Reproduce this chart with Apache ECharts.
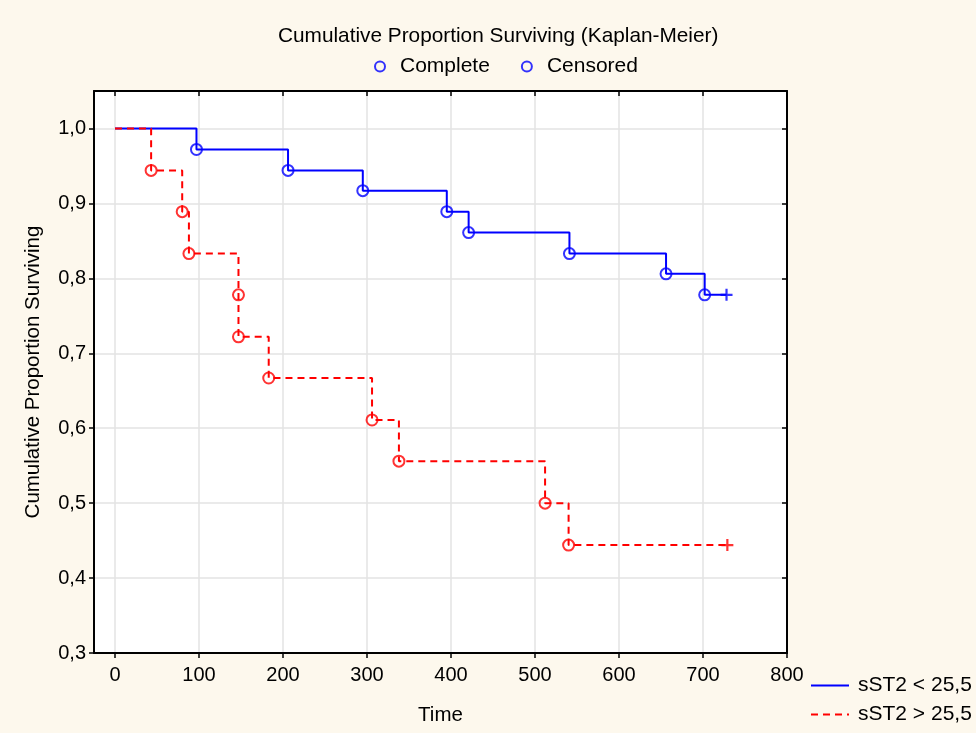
<!DOCTYPE html>
<html>
<head>
<meta charset="utf-8">
<title>Kaplan-Meier</title>
<script src="https://cdn.jsdelivr.net/npm/echarts@6/dist/echarts.min.js"></script>
<style>
  html, body { margin: 0; padding: 0; background: #fdf8ed; }
  #chart { width: 976px; height: 733px; }
</style>
</head>
<body>
<div id="chart"></div>
<script>
// sST2 < 25,5 (blue)
var lowTimes = [0, 97, 206, 295, 395, 421, 541, 656, 702]
var lowSurv = [1.0, 0.972, 0.944, 0.917, 0.889, 0.861, 0.833, 0.806, 0.778]
var lowCensorTime = 728
// sST2 > 25,5 (red)
var highTimes = [0, 43, 80, 88, 147, 147, 183, 306, 338, 512, 540]
var highSurv = [1.0, 0.944, 0.889, 0.833, 0.778, 0.722, 0.667, 0.611, 0.556, 0.5, 0.444]
var highCensorTime = 729

var xTicks = [0, 100, 200, 300, 400, 500, 600, 700, 800]
var yTicks = [0.3, 0.4, 0.5, 0.6, 0.7, 0.8, 0.9, 1.0]

var BLUE = '#0000ff'
var RED = '#ff0000'
var FONT = 'Liberation Sans, Arial, sans-serif'

function stepData(times, surv, censorTime) {
  var d = times.map(function(t, i) { return [t, surv[i]] })
  d.push([censorTime, surv[surv.length - 1]])
  return d
}

function eventPoints(times, surv, color) {
  var pts = []
  for (var i = 1; i < times.length; i++) {
    pts.push({ value: [times[i], surv[i]], itemStyle: { borderColor: color } })
  }
  return pts
}

var chart = echarts.init(document.getElementById('chart'))

var tickFont = { color: '#000', fontSize: 20, fontFamily: FONT }
var nameFont = { color: '#000', fontSize: 20.5, fontFamily: FONT }

var options = {
  backgroundColor: '#fdf8ed',
  animation: false,
  title: {
    text: 'Cumulative Proportion Surviving (Kaplan-Meier)',
    left: 278,
    top: 26,
    padding: 0,
    textStyle: { color: '#000', fontSize: 20.8, fontWeight: 'normal', fontFamily: FONT }
  },
  legend: [
    {
      data: [
        { name: 'Complete', icon: 'circle', itemStyle: { color: 'rgba(0,0,0,0)', borderColor: BLUE, borderWidth: 2 } },
        { name: 'Censored', icon: 'circle', itemStyle: { color: 'rgba(0,0,0,0)', borderColor: BLUE, borderWidth: 2 } }
      ],
      left: 374,
      top: 56,
      padding: 0,
      itemWidth: 10,
      itemHeight: 10,
      itemGap: 31,
      textStyle: { color: '#000', fontSize: 21, fontFamily: FONT, padding: [0, 0, 0, 10] }
    },
    {
      data: ['sST2 < 25,5', 'sST2 > 25,5'],
      orient: 'vertical',
      left: 810,
      top: 675,
      padding: 0,
      itemWidth: 38,
      itemHeight: 14,
      itemGap: 8,
      itemStyle: { opacity: 0 },
      textStyle: { color: '#000', fontSize: 21, fontFamily: FONT, padding: [0, 0, 0, 4] }
    }
  ],
  grid: {
    left: 94,
    right: 189,
    top: 91,
    bottom: 80,
    show: true,
    backgroundColor: '#fff',
    borderWidth: 0
  },
  xAxis: [
    {
      type: 'value',
      min: -25,
      max: 800,
      name: 'Time',
      nameLocation: 'middle',
      nameGap: 52,
      nameTextStyle: nameFont,
      axisLine: { onZero: false, lineStyle: { color: '#000', width: 2 } },
      axisTick: { show: true, length: 5, customValues: xTicks, lineStyle: { color: '#000', width: 1.5 } },
      axisLabel: Object.assign({ customValues: xTicks, margin: 12 }, tickFont),
      splitLine: { show: true, lineStyle: { color: '#e3e3e3', width: 1.5 } }
    },
    {
      type: 'value',
      position: 'top',
      min: -25,
      max: 800,
      axisLine: { onZero: false, lineStyle: { color: '#000', width: 2 } },
      axisTick: { show: true, inside: true, length: 5, customValues: xTicks, lineStyle: { color: '#000', width: 1.5 } },
      axisLabel: { show: false },
      splitLine: { show: false }
    }
  ],
  yAxis: [
    {
      type: 'value',
      min: 0.3,
      max: 1.05,
      name: 'Cumulative Proportion Surviving',
      nameLocation: 'middle',
      nameGap: 50,
      nameTextStyle: nameFont,
      axisLine: { show: true, onZero: false, lineStyle: { color: '#000', width: 2 } },
      axisTick: { show: true, length: 5, customValues: yTicks, lineStyle: { color: '#000', width: 1.5 } },
      axisLabel: Object.assign({
        customValues: yTicks,
        margin: 8,
        formatter: function(v) { return v.toFixed(1).replace('.', ',') }
      }, tickFont),
      splitLine: { show: true, lineStyle: { color: '#e3e3e3', width: 1.5 } }
    },
    {
      type: 'value',
      position: 'right',
      min: 0.3,
      max: 1.05,
      axisLine: { show: true, onZero: false, lineStyle: { color: '#000', width: 2 } },
      axisTick: { show: true, inside: true, length: 5, customValues: yTicks, lineStyle: { color: '#000', width: 1.5 } },
      axisLabel: { show: false },
      splitLine: { show: false }
    }
  ],
  series: [
    {
      name: 'sST2 < 25,5',
      type: 'line',
      step: 'end',
      symbol: 'none',
      lineStyle: { color: BLUE, width: 2, type: 'solid' },
      itemStyle: { color: BLUE },
      z: 3,
      data: stepData(lowTimes, lowSurv, lowCensorTime)
    },
    {
      name: 'sST2 > 25,5',
      type: 'line',
      step: 'end',
      symbol: 'none',
      lineStyle: { color: RED, width: 2, type: [7, 5] },
      itemStyle: { color: RED },
      z: 4,
      data: stepData(highTimes, highSurv, highCensorTime)
    },
    {
      name: 'Complete',
      type: 'scatter',
      symbol: 'circle',
      symbolSize: 11,
      itemStyle: { color: 'rgba(0,0,0,0)', borderColor: BLUE, borderWidth: 2 },
      z: 5,
      data: eventPoints(lowTimes, lowSurv, BLUE).concat(eventPoints(highTimes, highSurv, RED))
    },
    {
      name: 'Censored',
      type: 'scatter',
      symbol: 'path://M0,6L12,6M6,0L6,12',
      symbolSize: 12,
      itemStyle: { color: 'rgba(0,0,0,0)', borderColor: BLUE, borderWidth: 2.2 },
      z: 5,
      data: [
        { value: [lowCensorTime, lowSurv[lowSurv.length - 1]], itemStyle: { borderColor: BLUE } },
        { value: [highCensorTime, highSurv[highSurv.length - 1]], itemStyle: { borderColor: RED } }
      ]
    }
  ]
}

chart.setOption(options)
</script>
</body>
</html>
